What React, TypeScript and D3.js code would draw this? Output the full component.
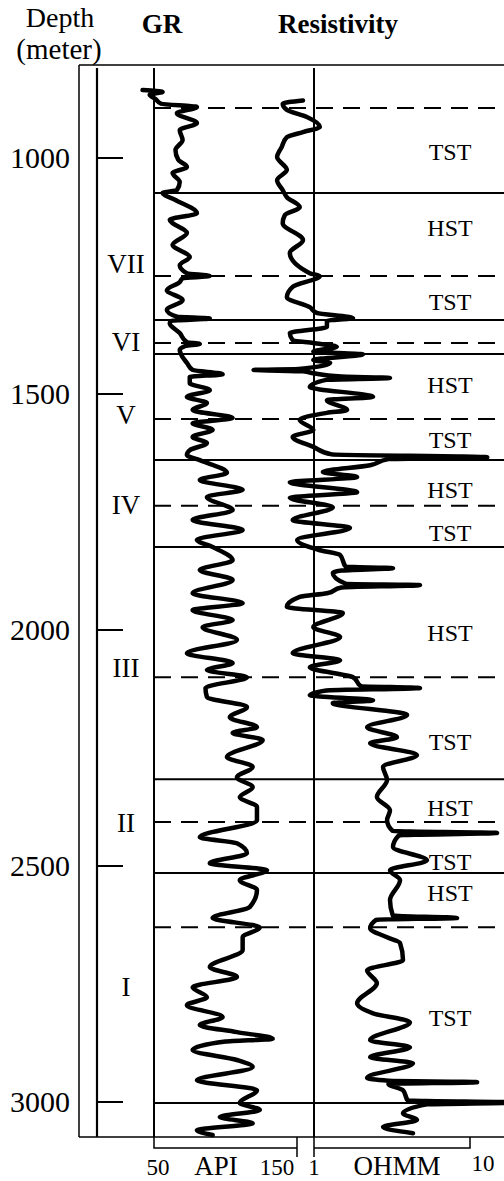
import React from 'react';
import * as d3 from 'd3';

// depth scale ticks (meters)
const depthTicks = [1000, 1500, 2000, 2500, 3000];

// GR log, depth (m) and gamma ray (API)
const grDepth = [856, 860, 866, 875, 885, 892, 905, 926, 941, 962, 983, 1004, 1019, 1032, 1051, 1068, 1074, 1089, 1117, 1131, 1159, 1184, 1210, 1227, 1244, 1250, 1255, 1263, 1280, 1301, 1322, 1336, 1340, 1345, 1350, 1371, 1390, 1394, 1398, 1407, 1422, 1434, 1449, 1458, 1464, 1477, 1492, 1506, 1519, 1534, 1551, 1562, 1576, 1591, 1604, 1619, 1629, 1640, 1667, 1682, 1703, 1718, 1746, 1767, 1788, 1809, 1824, 1852, 1873, 1894, 1922, 1943, 1958, 1979, 1994, 2021, 2049, 2070, 2085, 2100, 2123, 2142, 2163, 2185, 2206, 2218, 2233, 2269, 2290, 2312, 2333, 2354, 2375, 2403, 2439, 2452, 2473, 2494, 2509, 2530, 2551, 2587, 2610, 2630, 2651, 2678, 2714, 2735, 2757, 2778, 2795, 2820, 2837, 2852, 2866, 2872, 2890, 2911, 2926, 2954, 2975, 3002, 3017, 3032, 3045, 3060, 3070];
const grApi = [42, 56, 47, 51, 55, 80, 66, 80, 68, 70, 65, 67, 73, 63, 68, 66, 56, 65, 80, 61, 73, 63, 75, 68, 73, 89, 70, 68, 59, 70, 59, 66, 89, 62, 61, 68, 73, 82, 72, 68, 70, 73, 77, 98, 75, 75, 89, 73, 87, 77, 105, 77, 91, 77, 87, 75, 73, 82, 101, 82, 112, 87, 105, 77, 112, 80, 91, 105, 82, 105, 77, 112, 77, 105, 84, 108, 73, 105, 87, 115, 86, 87, 115, 103, 122, 105, 126, 101, 119, 108, 119, 110, 122, 122, 82, 108, 115, 89, 129, 110, 122, 117, 91, 124, 112, 112, 89, 108, 77, 87, 73, 98, 82, 108, 133, 100, 77, 108, 119, 80, 122, 110, 124, 96, 119, 80, 91];

// resistivity log, depth (m) and ohmm
const resDepth = [878, 885, 898, 913, 934, 945, 956, 977, 998, 1025, 1047, 1068, 1083, 1104, 1121, 1138, 1174, 1201, 1244, 1250, 1273, 1295, 1316, 1328, 1339, 1345, 1358, 1371, 1386, 1392, 1400, 1410, 1416, 1428, 1434, 1447, 1449, 1452, 1456, 1463, 1466, 1470, 1485, 1506, 1513, 1534, 1540, 1555, 1576, 1591, 1612, 1628, 1634, 1638, 1651, 1665, 1676, 1687, 1708, 1720, 1740, 1767, 1784, 1809, 1831, 1841, 1866, 1869, 1874, 1879, 1902, 1905, 1910, 1922, 1930, 1951, 1964, 1994, 2015, 2049, 2064, 2079, 2100, 2119, 2123, 2128, 2138, 2149, 2155, 2180, 2206, 2227, 2240, 2265, 2290, 2318, 2354, 2382, 2403, 2426, 2430, 2435, 2460, 2488, 2509, 2530, 2572, 2605, 2610, 2614, 2632, 2651, 2663, 2699, 2721, 2748, 2791, 2812, 2831, 2869, 2884, 2905, 2918, 2949, 2955, 2958, 2962, 2975, 2997, 3001, 3005, 3024, 3038, 3053, 3066];
const resOhm = [0.85, 0.63, 0.67, 0.9, 1.09, 0.85, 0.67, 0.62, 0.58, 0.67, 0.58, 0.63, 0.67, 0.81, 0.65, 0.63, 0.85, 0.7, 0.94, 1.09, 0.73, 0.67, 0.94, 1.04, 1.78, 1.21, 1.21, 0.7, 0.73, 0.99, 1.4, 0.99, 2.06, 0.99, 1.27, 0.8, 0.41, 0.85, 0.99, 1.5, 3.07, 1.2, 0.94, 2.39, 1.21, 1.63, 1.21, 0.81, 0.99, 0.73, 0.99, 1.3, 12.9, 3.0, 2.29, 1.14, 1.89, 0.7, 1.89, 0.7, 1.32, 0.73, 1.7, 0.78, 1.09, 1.47, 1.6, 3.21, 1.5, 1.32, 1.6, 4.78, 1.5, 1.21, 0.81, 0.67, 1.53, 0.99, 1.47, 0.73, 1.47, 0.94, 1.78, 2.0, 4.78, 1.2, 0.94, 2.39, 1.32, 3.95, 2.19, 3.4, 2.29, 4.57, 2.77, 2.94, 2.53, 3.07, 2.94, 3.2, 14.9, 3.5, 3.21, 5.3, 3.07, 3.56, 3.07, 3.2, 8.26, 2.5, 2.29, 2.94, 3.56, 3.72, 2.19, 2.53, 1.89, 2.39, 4.12, 2.29, 4.12, 2.29, 4.31, 2.19, 3.0, 11.1, 3.0, 3.72, 4.0, 20.9, 5.3, 3.72, 4.57, 2.77, 4.31];

// sequence boundaries (m)
const solidBounds = [1074, 1343, 1415, 1640, 1824, 2316, 2515, 3002];
const dashedBounds = [894, 1250, 1392, 1553, 1737, 2100, 2407, 2630];

// systems tracts
const tractNames = ['TST', 'HST', 'TST', 'HST', 'TST', 'HST', 'TST', 'HST', 'TST', 'HST', 'TST', 'HST', 'TST'];
const tractDepths = [987, 1148, 1305, 1481, 1598, 1703, 1795, 2007, 2238, 2377, 2492, 2557, 2822];

// sequences
const seqNames = ['VII', 'VI', 'V', 'IV', 'III', 'II', 'I'];
const seqDepths = [1225, 1390, 1545, 1735, 2081, 2409, 2757];

const W = 504;
const H = 1181;
const FONT = '"Liberation Serif", "Times New Roman", serif';

export default function App() {
  const y = d3.scaleLinear().domain([1000, 3000]).range([158, 1102]);
  const grX = d3.scaleLinear().domain([50, 150]).range([154, 297]);
  const resX = d3.scaleLog().domain([1, 10]).range([314, 470]);

  const top = 65;
  const bottom = 1137;
  const frameLeft = 79;
  const axisX = 97;

  const grPts: [number, number][] = grDepth.map((d, i) => [d, grApi[i]]);
  const resPts: [number, number][] = resDepth.map((d, i) => [d, resOhm[i]]);

  const grLine = d3.line<[number, number]>()
    .x(d => grX(d[1]))
    .y(d => y(d[0]))
    .curve(d3.curveMonotoneY);
  const resLine = d3.line<[number, number]>()
    .x(d => resX(d[1]))
    .y(d => y(d[0]))
    .curve(d3.curveMonotoneY);

  const x0 = grX(50);
  const x1 = grX(150);
  const r0 = resX(1);
  const r1 = resX(10);

  return (
    <svg width={W} height={H} style={{ position: 'absolute', left: 0, top: 0, background: '#fff' }}
      fontFamily={FONT}>
      {/* header */}
      <text x={60} y={27} fontSize={28} textAnchor="middle">Depth</text>
      <text x={59} y={59} fontSize={29} textAnchor="middle">(meter)</text>
      <text x={162} y={33} fontSize={27} fontWeight="bold" textAnchor="middle">GR</text>
      <text x={338} y={33} fontSize={27} fontWeight="bold" textAnchor="middle">Resistivity</text>

      {/* frame */}
      <line x1={frameLeft} y1={top} x2={W} y2={top} stroke="#000" strokeWidth={1.5} />
      <line x1={frameLeft} y1={top} x2={frameLeft} y2={bottom} stroke="#000" strokeWidth={1.5} />
      <line x1={frameLeft} y1={bottom} x2={W} y2={bottom} stroke="#000" strokeWidth={1.5} />

      {/* depth axis */}
      <line x1={axisX} y1={68} x2={axisX} y2={bottom} stroke="#000" strokeWidth={2.2} />
      {depthTicks.map(t => (
        <g key={t}>
          <line x1={axisX} x2={123} y1={y(t)} y2={y(t)} stroke="#000" strokeWidth={2} />
          <text x={70} y={y(t) + 10} fontSize={30} textAnchor="end">{t}</text>
        </g>
      ))}

      {/* track lines */}
      <line x1={x0} y1={68} x2={x0} y2={bottom} stroke="#000" strokeWidth={2} />
      <line x1={r0} y1={68} x2={r0} y2={bottom} stroke="#000" strokeWidth={2} />

      {/* boundaries */}
      {solidBounds.map(d => (
        <line key={'s' + d} x1={x0} x2={W} y1={y(d)} y2={y(d)} stroke="#000" strokeWidth={2} />
      ))}
      {dashedBounds.map(d => (
        <line key={'d' + d} x1={x0} x2={W} y1={y(d)} y2={y(d)} stroke="#000" strokeWidth={2}
          strokeDasharray="17 10" />
      ))}

      {/* logs */}
      <path d={grLine(grPts) || ''} fill="none" stroke="#000" strokeWidth={4.5} strokeLinejoin="round" strokeLinecap="round" />
      <path d={resLine(resPts) || ''} fill="none" stroke="#000" strokeWidth={4.5} strokeLinejoin="round" strokeLinecap="round" />

      {/* systems tracts */}
      {tractNames.map((n, i) => (
        <text key={'t' + i} x={450} y={y(tractDepths[i])} dy="0.34em" fontSize={24} textAnchor="middle">{n}</text>
      ))}

      {/* sequences */}
      {seqNames.map((n, i) => (
        <text key={'q' + i} x={126} y={y(seqDepths[i])} dy="0.34em" fontSize={27} textAnchor="middle">{n}</text>
      ))}

      {/* scale brackets */}
      <path d={`M${x0},${bottom}V1148H${x1}`} fill="none" stroke="#000" strokeWidth={1.5} />
      <line x1={x1} x2={x1} y1={bottom} y2={1157} stroke="#000" strokeWidth={1.5} />
      <path d={`M${r0},${bottom}V1157M${r0},1148H${r1}V${bottom}`} fill="none" stroke="#000" strokeWidth={1.5} />

      <text x={158} y={1175} fontSize={23} textAnchor="middle">50</text>
      <text x={216} y={1175} fontSize={27} textAnchor="middle">API</text>
      <text x={277} y={1175} fontSize={23} textAnchor="middle">150</text>
      <text x={314} y={1175} fontSize={23} textAnchor="middle">1</text>
      <text x={397} y={1175} fontSize={27} textAnchor="middle">OHMM</text>
      <text x={483} y={1171} fontSize={23} textAnchor="middle">10</text>
    </svg>
  );
}
